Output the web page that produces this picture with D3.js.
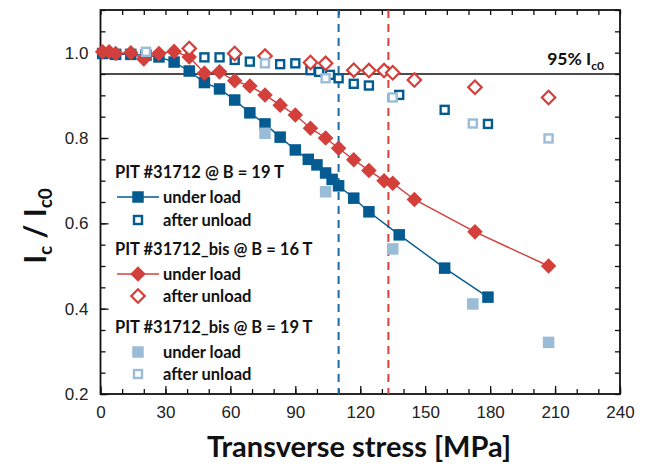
<!DOCTYPE html>
<html>
<head>
<meta charset="utf-8">
<script src="https://cdn.jsdelivr.net/npm/d3@7"></script>
<style>
  body { margin: 0; background: #fff; }
  svg { display: block; }
  .tick text { font-family: "Liberation Sans", Arial, sans-serif; font-size: 17px; fill: #222; }
  .bold { font-family: Lato, "Open Sans", sans-serif; font-weight: bold; fill: #111; }
</style>
</head>
<body>
<svg id="chart" width="651" height="467"></svg>
<script>
// PIT #31712 @ B = 19 T
let blueLoadX = [1, 7, 14, 21, 27, 34, 41, 48, 55, 62, 69, 76, 83, 90, 96, 100, 104, 107, 110, 117, 124, 138, 159, 179]
let blueLoadY = [0.998, 0.996, 0.996, 0.994, 0.99, 0.978, 0.957, 0.93, 0.915, 0.889, 0.859, 0.833, 0.802, 0.772, 0.75, 0.737, 0.718, 0.703, 0.688, 0.659, 0.627, 0.573, 0.495, 0.427]
let blueUnloadX = [48, 55, 62, 69, 83, 90, 97, 101, 106, 110, 117, 124, 138, 159, 179]
let blueUnloadY = [0.989, 0.989, 0.983, 0.979, 0.973, 0.975, 0.959, 0.955, 0.948, 0.94, 0.927, 0.923, 0.901, 0.866, 0.833]

// PIT #31712_bis @ B = 16 T
let redLoadX = [1, 4, 7, 14, 20, 27, 34, 41, 48, 55, 62, 69, 76, 83, 90, 97, 104, 110, 117, 124, 131, 135, 145, 173, 207]
let redLoadY = [1.002, 1.002, 0.998, 1.0, 0.985, 0.998, 1.003, 0.99, 0.952, 0.955, 0.934, 0.922, 0.901, 0.877, 0.854, 0.823, 0.8, 0.776, 0.749, 0.724, 0.7, 0.694, 0.656, 0.58, 0.5]
let redUnloadX = [41, 62, 76, 97, 104, 117, 124, 131, 135, 145, 173, 207]
let redUnloadY = [1.01, 0.998, 0.992, 0.977, 0.975, 0.959, 0.958, 0.958, 0.953, 0.936, 0.919, 0.895]

// PIT #31712_bis @ B = 19 T
let lightLoadX = [76, 104, 135, 172, 207]
let lightLoadY = [0.811, 0.674, 0.54, 0.411, 0.321]
let lightUnloadX = [21, 76, 104, 135, 172, 207]
let lightUnloadY = [1.002, 0.975, 0.94, 0.895, 0.834, 0.799]

let xTicks = [0, 30, 60, 90, 120, 150, 180, 210, 240]
let yTicks = [0.2, 0.4, 0.6, 0.8, 1.0]
let thresholdLevel = 0.95
let blueLimit = 110
let redLimit = 133

let darkBlue = "#045b92"
let red = "#d33f3b"
let lightBlue = "#9abcd7"

let svg = d3.select("#chart")
let mLeft = 100.5, mRight = 620, mTop = 10, mBottom = 394

let x = d3.scaleLinear().domain([0, 240]).range([mLeft, mRight])
let y = d3.scaleLinear().domain([0.2, 1.1]).range([mBottom, mTop])

let zip = (xs, ys) => xs.map((v, i) => [v, ys[i]])

// axes, ticks inward
let minorX = d3.range(0, 241, 10)
let minorY = d3.range(0.2, 1.1001, 0.05)

svg.append("g").attr("transform", `translate(0,${mBottom})`)
    .call(d3.axisBottom(x).tickValues(minorX).tickSize(-5).tickFormat(""))
    .call(g => g.select(".domain").remove())
svg.append("g").attr("transform", `translate(0,${mBottom})`)
    .call(d3.axisBottom(x).tickValues(xTicks).tickSize(-8).tickPadding(12).tickFormat(d3.format("d")))
    .call(g => g.select(".domain").remove())
svg.append("g").attr("transform", `translate(0,${mTop})`)
    .call(d3.axisTop(x).tickValues(minorX).tickSize(-5).tickFormat(""))
    .call(g => g.select(".domain").remove())
svg.append("g").attr("transform", `translate(${mLeft},0)`)
    .call(d3.axisLeft(y).tickValues(minorY).tickSize(-5).tickFormat(""))
    .call(g => g.select(".domain").remove())
svg.append("g").attr("transform", `translate(${mLeft},0)`)
    .call(d3.axisLeft(y).tickValues(yTicks).tickSize(-8).tickPadding(12).tickFormat(d3.format(".1f")))
    .call(g => g.select(".domain").remove())
svg.append("g").attr("transform", `translate(${mRight},0)`)
    .call(d3.axisRight(y).tickValues(minorY).tickSize(-5).tickFormat(""))
    .call(g => g.select(".domain").remove())
svg.selectAll(".tick line").attr("stroke", "#111").attr("stroke-width", 1.3)

svg.append("rect")
    .attr("x", mLeft).attr("y", mTop)
    .attr("width", mRight - mLeft).attr("height", mBottom - mTop)
    .attr("fill", "none").attr("stroke", "#111").attr("stroke-width", 1.8)

// 95% line
svg.append("line")
    .attr("x1", mLeft).attr("x2", mRight)
    .attr("y1", y(thresholdLevel)).attr("y2", y(thresholdLevel))
    .attr("stroke", "#111").attr("stroke-width", 1.4)
let lbl = svg.append("text").attr("class", "bold")
    .attr("x", 604).attr("y", y(thresholdLevel) - 9)
    .attr("text-anchor", "end").attr("font-size", 17.5)
lbl.append("tspan").text("95% I")
lbl.append("tspan").attr("font-size", 12).attr("dy", 5).text("c0")

// vertical dashed limits
svg.append("line")
    .attr("x1", x(blueLimit)).attr("x2", x(blueLimit))
    .attr("y1", mTop).attr("y2", mBottom)
    .attr("stroke", "#1f6a9e").attr("stroke-width", 2).attr("stroke-dasharray", "8,6")
svg.append("line")
    .attr("x1", x(redLimit)).attr("x2", x(redLimit))
    .attr("y1", mTop).attr("y2", mBottom)
    .attr("stroke", "#d9403c").attr("stroke-width", 2).attr("stroke-dasharray", "8,6")

let line = d3.line().x(d => x(d[0])).y(d => y(d[1]))

let drawSquares = (data, fill, stroke, size) => {
    svg.append("g").selectAll("rect")
        .data(data)
        .enter()
        .append("rect")
        .attr("x", d => x(d[0]) - size / 2)
        .attr("y", d => y(d[1]) - size / 2)
        .attr("width", size).attr("height", size)
        .attr("fill", fill)
        .attr("stroke", stroke)
        .attr("stroke-width", stroke == "none" ? 0 : 2.4)
}
let diamond = d3.symbol().type(d3.symbolSquare)
let drawDiamonds = (data, fill, stroke, size) => {
    svg.append("g").selectAll("path")
        .data(data)
        .enter()
        .append("path")
        .attr("d", diamond.size(size * size)())
        .attr("transform", d => `translate(${x(d[0])},${y(d[1])}) rotate(45)`)
        .attr("fill", fill)
        .attr("stroke", stroke)
        .attr("stroke-width", stroke == "none" ? 0 : 2.2)
}

// dark blue series
svg.append("path").datum(zip(blueLoadX, blueLoadY))
    .attr("d", line).attr("fill", "none").attr("stroke", darkBlue).attr("stroke-width", 1.4)
drawSquares(zip(blueUnloadX, blueUnloadY), "#fff", darkBlue, 8)
drawSquares(zip(blueLoadX, blueLoadY), darkBlue, "none", 11.5)

// red series
svg.append("path").datum(zip(redLoadX, redLoadY))
    .attr("d", line).attr("fill", "none").attr("stroke", red).attr("stroke-width", 1.4)
drawDiamonds(zip(redLoadX, redLoadY), red, "none", 11)
drawDiamonds(zip(redUnloadX, redUnloadY), "#fff", red, 9.5)

// light blue series
drawSquares(zip(lightLoadX, lightLoadY), lightBlue, "none", 11.5)
drawSquares(zip(lightUnloadX, lightUnloadY), "#fff", lightBlue, 8)

// legend
let legend = [
    { title: "PIT #31712 @ B = 19 T", ty: 172 },
    { label: "under load", ty: 197, kind: "sq", fill: darkBlue, stroke: "none", line: darkBlue },
    { label: "after unload", ty: 220, kind: "sq", fill: "#fff", stroke: darkBlue },
    { title: "PIT #31712_bis @ B = 16 T", ty: 249 },
    { label: "under load", ty: 274, kind: "di", fill: red, stroke: "none", line: red },
    { label: "after unload", ty: 296, kind: "di", fill: "#fff", stroke: red },
    { title: "PIT #31712_bis @ B = 19 T", ty: 327 },
    { label: "under load", ty: 352, kind: "sq", fill: lightBlue, stroke: "none" },
    { label: "after unload", ty: 374, kind: "sq", fill: "#fff", stroke: lightBlue }
]
let lg = svg.append("g")
legend.forEach(item => {
    if (item.title) {
        lg.append("text").attr("class", "bold")
            .attr("x", 115).attr("y", item.ty).attr("dy", "0.36em")
            .attr("font-size", 16.5).text(item.title)
        return
    }
    if (item.line) {
        lg.append("line").attr("x1", 117).attr("x2", 159)
            .attr("y1", item.ty).attr("y2", item.ty)
            .attr("stroke", item.line).attr("stroke-width", 1.4)
    }
    let filled = item.stroke == "none"
    if (item.kind == "sq") {
        let s = filled ? 11.5 : 8
        lg.append("rect").attr("x", 138 - s / 2).attr("y", item.ty - s / 2)
            .attr("width", s).attr("height", s)
            .attr("fill", item.fill).attr("stroke", item.stroke)
            .attr("stroke-width", filled ? 0 : 2.4)
    } else {
        let s = filled ? 11 : 9.5
        lg.append("path").attr("d", diamond.size(s * s)())
            .attr("transform", `translate(138,${item.ty}) rotate(45)`)
            .attr("fill", item.fill).attr("stroke", item.stroke)
            .attr("stroke-width", filled ? 0 : 2.2)
    }
    lg.append("text").attr("class", "bold")
        .attr("x", 163).attr("y", item.ty).attr("dy", "0.36em")
        .attr("font-size", 16.5).text(item.label)
})

// axis titles
svg.append("text").attr("class", "bold")
    .attr("x", 359).attr("y", 457)
    .attr("text-anchor", "middle").attr("font-size", 29)
    .text("Transverse stress [MPa]")
let yt = svg.append("text").attr("class", "bold")
    .attr("transform", "translate(46,226) rotate(-90)")
    .attr("text-anchor", "middle").attr("font-size", 30)
yt.append("tspan").text("I")
yt.append("tspan").attr("font-size", 19).attr("dy", 6).text("c")
yt.append("tspan").attr("dy", -6).text(" / I")
yt.append("tspan").attr("font-size", 19).attr("dy", 6).text("c0")
</script>
</body>
</html>
